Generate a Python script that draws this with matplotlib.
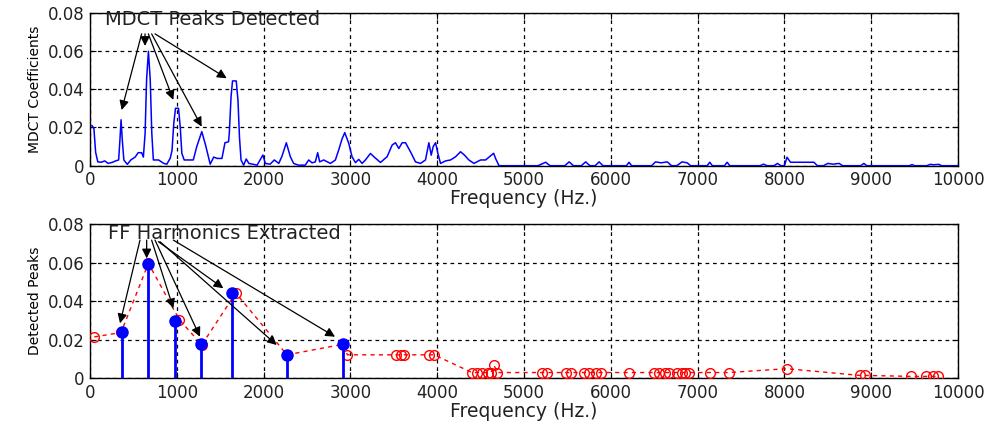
import matplotlib
matplotlib.use("Agg")
import matplotlib.pyplot as plt

# ---- data: top panel (MDCT spectrum) ----
mdct_freq = [22, 45, 65, 90, 130, 170, 210, 260, 300, 330, 345, 358, 372, 390, 430, 470, 520, 555, 595, 615,
             635, 652, 673, 694, 712, 730, 790, 850, 885, 925, 945, 965, 985, 1020, 1040, 1058, 1085, 1190,
             1230, 1288, 1330, 1385, 1425, 1465, 1520, 1555, 1596, 1605, 1625, 1642, 1685, 1705, 1722, 1740,
             1770, 1800, 1830, 1925, 1992, 2020, 2075, 2123, 2175, 2212, 2262, 2308, 2346, 2400, 2480, 2520,
             2558, 2596, 2623, 2646, 2692, 2770, 2827, 2865, 2904, 2935, 2980, 3019, 3058, 3096, 3135, 3173,
             3231, 3270, 3346, 3423, 3481, 3519, 3558, 3596, 3635, 3692, 3750, 3808, 3865, 3904, 3931, 3954,
             3981, 4008, 4038, 4096, 4154, 4212, 4269, 4315, 4365, 4423, 4500, 4558, 4597, 4650, 4675, 4712,
             5160, 5250, 5300, 5470, 5520, 5570, 5660, 5710, 5760, 5820, 5865, 5910, 6180, 6210, 6240,
             6470, 6515, 6580, 6650, 6700, 6760, 6820, 6880, 6920, 7110, 7140, 7170, 7310, 7340, 7370,
             7720, 7760, 7800, 7880, 7920, 7960, 8000, 8030, 8070, 8340, 8380, 8450, 8500, 8560, 8630, 8670,
             8880, 8915, 8950, 9440, 9470, 9500, 9640, 9680, 9720, 9780, 9810, 10000]
mdct_vals = [0.021, 0.0195, 0.007, 0.002, 0.0018, 0.0025, 0.0012, 0.0018, 0.0026, 0.003, 0.0135, 0.024, 0.0135,
             0.003, 0.0007, 0.003, 0.0045, 0.0068, 0.0068, 0.0045, 0.017, 0.045, 0.0598, 0.045, 0.017, 0.003,
             0.003, 0.0012, 0.0008, 0.004, 0.008, 0.022, 0.030, 0.030, 0.020, 0.0065, 0.003, 0.003, 0.010,
             0.0178, 0.011, 0.0008, 0.0045, 0.0038, 0.0038, 0.012, 0.0125, 0.017, 0.036, 0.0443, 0.0443, 0.034,
             0.015, 0.003, 0.0003, 0.0035, 0.0012, 0.0003, 0.0056, 0.0012, 0.0008, 0.003, 0.0012, 0.005, 0.012,
             0.0047, 0.0012, 0.0003, 0.0003, 0.003, 0.0015, 0.002, 0.0068, 0.002, 0.003, 0.0012, 0.003, 0.0082,
             0.014, 0.0173, 0.0118, 0.0047, 0.0016, 0.0033, 0.0012, 0.003, 0.0064, 0.0047, 0.0017, 0.0047,
             0.0108, 0.012, 0.009, 0.012, 0.012, 0.0073, 0.002, 0.0012, 0.003, 0.012, 0.0055, 0.010, 0.012,
             0.0064, 0.0012, 0.0025, 0.003, 0.0047, 0.0073, 0.0055, 0.003, 0.0012, 0.003, 0.003, 0.0045,
             0.0065, 0.0035, 0.0,
             0.0, 0.0018, 0.0, 0.0, 0.002, 0.0, 0.0, 0.002, 0.0, 0.0, 0.002, 0.0, 0.0, 0.0018, 0.0,
             0.0, 0.002, 0.0015, 0.002, 0.0, 0.0, 0.002, 0.0015, 0.0, 0.0, 0.0018, 0.0, 0.0, 0.0018, 0.0,
             0.0, 0.0008, 0.0, 0.0, 0.0012, 0.0, 0.0, 0.0044, 0.0018, 0.0018, 0.0, 0.0, 0.0012, 0.0008, 0.0012,
             0.0, 0.0, 0.0012, 0.0, 0.0, 0.0006, 0.0, 0.0, 0.0007, 0.0005, 0.0007, 0.0, 0.0]

# ---- data: bottom panel ----
peak_freq = [50, 358, 673, 1030, 1288, 1680, 2269, 2918, 2965, 3520, 3580, 3620, 3904, 3965,
             4400, 4460, 4520, 4580, 4620, 4655, 4690, 5210, 5268, 5480, 5540, 5690, 5750, 5825, 5885,
             6207, 6494, 6552, 6628, 6667, 6762, 6820, 6858, 6897, 7146, 7356, 8027, 8870, 8927,
             9464, 9636, 9713, 9770]
peak_vals = [0.0215, 0.0238, 0.0597, 0.0304, 0.0174, 0.0443, 0.0122, 0.0177, 0.0122, 0.0122, 0.0122, 0.0122,
             0.0122, 0.0122, 0.003, 0.003, 0.003, 0.003, 0.003, 0.0068, 0.003, 0.003, 0.003, 0.003, 0.003,
             0.003, 0.003, 0.003, 0.003, 0.003, 0.003, 0.003, 0.003, 0.003, 0.003, 0.003, 0.003, 0.003,
             0.003, 0.003, 0.005, 0.0015, 0.0015, 0.001, 0.001, 0.001, 0.001]
harm_freq = [365, 672, 979, 1279, 1632, 2266, 2918]
harm_vals = [0.0239, 0.0594, 0.0300, 0.0177, 0.0445, 0.0121, 0.0177]

xticks = [0, 1000, 2000, 3000, 4000, 5000, 6000, 7000, 8000, 9000, 10000]
yticks = [0, 0.02, 0.04, 0.06, 0.08]
ytick_labels = ["0", "0.02", "0.04", "0.06", "0.08"]

# arrows: (tail_f, tail_v, head_f, head_v)
top_arrows = [(595, 0.0689, 365, 0.0291), (634, 0.0689, 634, 0.0626), (672, 0.0689, 960, 0.0344),
              (710, 0.0689, 1287, 0.0204), (749, 0.0689, 1575, 0.0457)]
bot_arrows = [(576, 0.0718, 346, 0.0286), (653, 0.0718, 653, 0.0623), (710, 0.0718, 960, 0.0364),
              (749, 0.0718, 1267, 0.0216), (787, 0.071, 1536, 0.0468), (806, 0.071, 2151, 0.0173),
              (960, 0.0718, 2823, 0.0216)]

plt.rcParams['font.family'] = ['DejaVu Sans']

fig = plt.figure(figsize=(9.9, 4.21), dpi=100)
ax1 = fig.add_axes([0.0909, 0.6064, 0.8768, 0.3636])
ax2 = fig.add_axes([0.0909, 0.1014, 0.8768, 0.3658])

def style(ax, ylabel):
    ax.set_xlim(0, 10000)
    ax.set_ylim(0, 0.08)
    ax.set_xticks(xticks)
    ax.set_xticklabels([str(t) for t in xticks], fontsize=12, color='#222222')
    ax.set_yticks(yticks)
    ax.set_yticklabels(ytick_labels, fontsize=12, color='#222222')
    ax.grid(True, color='black', linestyle=(0, (3, 3)), linewidth=0.9)
    ax.set_axisbelow(True)
    ax.tick_params(direction='in', length=4, top=True, right=True, color='black', pad=4)
    for s in ax.spines.values():
        s.set_color('black')
        s.set_linewidth(1.0)
    ax.set_xlabel("Frequency (Hz.)", fontsize=13.5, labelpad=0, color='#222222')
    ax.set_ylabel(ylabel, fontsize=10, labelpad=4)

# top panel
ax1.plot(mdct_freq, mdct_vals, color='#0000ff', linewidth=1.1, zorder=3)
style(ax1, "MDCT Coefficients")
ax1.text(173, 0.0762, "MDCT Peaks Detected", fontsize=14, va='center', ha='left', zorder=5,
         color='#222222')
for tf, tv, hf, hv in top_arrows:
    ax1.annotate("", xy=(hf, hv), xytext=(tf, tv),
                 arrowprops=dict(arrowstyle='-|>', color='black', lw=0.9, mutation_scale=14,
                                 shrinkA=0, shrinkB=0), zorder=6)

# bottom panel
ax2.plot(peak_freq, peak_vals, color='#ff0000', linestyle=(0, (3, 3)), linewidth=1.0,
         marker='o', markerfacecolor='none', markeredgecolor='#ff0000', markersize=7,
         markeredgewidth=1.0, zorder=3)
ml, sl, bl = ax2.stem(harm_freq, harm_vals, basefmt=' ')
plt.setp(sl, color='#0000ff', linewidth=2.0, zorder=4)
plt.setp(ml, color='#0000ff', markersize=8, markerfacecolor='#0000ff', zorder=4)
style(ax2, "Detected Peaks")
ax2.text(211, 0.0753, "FF Harmonics Extracted", fontsize=14, va='center', ha='left', zorder=5,
         color='#222222')
for tf, tv, hf, hv in bot_arrows:
    ax2.annotate("", xy=(hf, hv), xytext=(tf, tv),
                 arrowprops=dict(arrowstyle='-|>', color='black', lw=0.9, mutation_scale=14,
                                 shrinkA=0, shrinkB=0), zorder=6)

fig.savefig("out.png", dpi=100, facecolor='white')
